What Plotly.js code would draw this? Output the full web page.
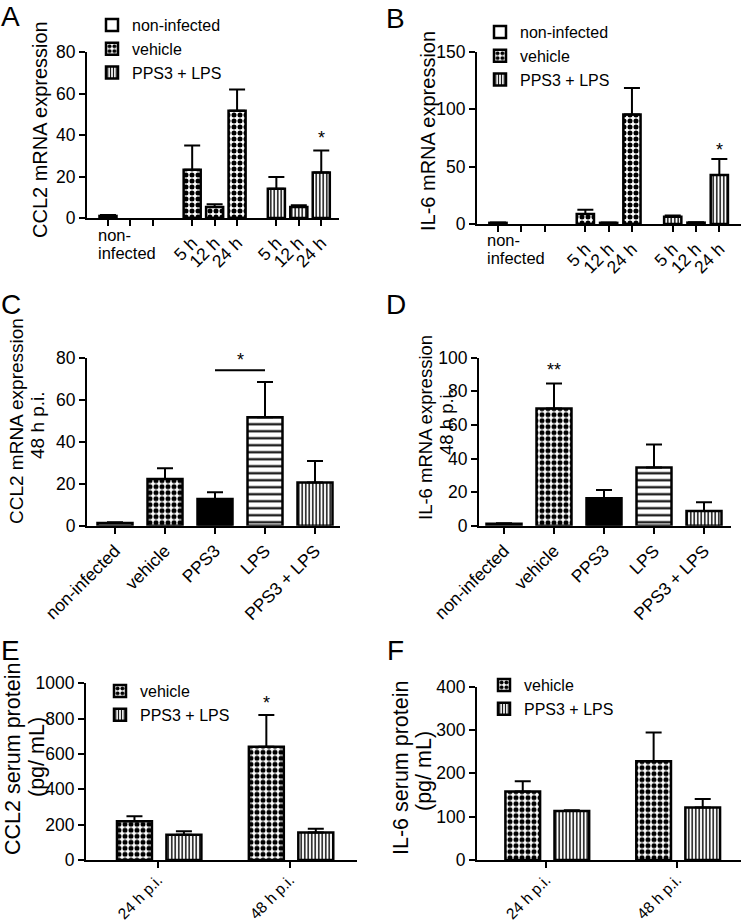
<!DOCTYPE html>
<html><head><meta charset="utf-8">
<script src="https://cdn.plot.ly/plotly-3.0.1.min.js"></script>
<style>html,body{margin:0;padding:0;background:#fff}</style>
</head><body><div id="chart" style="width:742px;height:922px"></div>
<script>
// ---------------- DATA ----------------
const groupNames = ["non-infected", "vehicle", "PPS3 + LPS"];
const timeLabels = ["5 h", "12 h", "24 h"];
const nonInfectedLines = ["non-", "infected"];

const A_nonInfected = [1.0], A_nonInfectedErr = [0.4];
const A_vehicle = [23.2, 5.3, 51.7], A_vehicleErr = [11.7, 1.3, 10.2];
const A_pps3lps = [14.1, 5.3, 21.9], A_pps3lpsErr = [5.7, 0.8, 10.6];

const B_nonInfected = [1.0], B_nonInfectedErr = [0.3];
const B_vehicle = [8.7, 1.0, 95.4], B_vehicleErr = [3.7, 0.3, 23.1];
const B_pps3lps = [6.4, 1.2, 42.8], B_pps3lpsErr = [1.1, 0.3, 13.8];

const treatments = ["non-infected", "vehicle", "PPS3", "LPS", "PPS3 + LPS"];
const C_values = [1.3, 22.2, 12.7, 51.7, 20.6], C_err = [0.3, 5.1, 3.2, 16.7, 10.2];
const D_values = [1.2, 69.8, 16.3, 34.7, 8.7], D_err = [0.3, 14.9, 4.9, 13.7, 5.2];

const timepoints = ["24 h p.i.", "48 h p.i."];
const E_vehicle = [220, 641], E_vehicleErr = [27, 180];
const E_pps3lps = [143, 155], E_pps3lpsErr = [19, 22];
const F_vehicle = [158, 228], F_vehicleErr = [24, 66];
const F_pps3lps = [113, 121], F_pps3lpsErr = [2, 20];

// y-axis titles (one entry per line)
const A_title = ["CCL2 mRNA expression"];
const B_title = ["IL-6 mRNA expression"];
const C_title = ["CCL2 mRNA expression", "48 h p.i."];
const D_title = ["IL-6 mRNA expression", "48 h p.i."];
const E_title = ["CCL2 serum protein", "(pg/ mL)"];
const F_title = ["IL-6 serum protein", "(pg/ mL)"];

// significance marks
const A_sig = {group: 2, time: 2, label: "*", y: 38.5};
const B_sig = {group: 2, time: 2, label: "*", y: 64.5};
const C_sig = {from: "PPS3", to: "LPS", label: "*", y: 74};
const D_sig = {at: "vehicle", label: "**", y: 92.5};
const E_sig = {time: 1, label: "*", y: 890};

// ---------------- STYLE ----------------
const FONT = "Liberation Sans, Arial, Helvetica, sans-serif";
const W = 742, H = 922;
const px = p => p / W;
const py = p => 1 - p / H;
const patt = (shape, size, solidity) => ({shape, size, solidity, fgcolor: "black", bgcolor: "white", fillmode: "replace"});
const styles = {
  "non-infected": {color: "white"},
  "vehicle": {color: "white", pattern: patt(".", 6, 0.55)},
  "PPS3": {color: "black"},
  "LPS": {color: "white", pattern: patt("-", 7, 0.3)},
  "PPS3 + LPS": {color: "white", pattern: patt("|", 3.5, 0.4)}
};
const mk = name => Object.assign({line: {color: "black", width: 2.5}}, styles[name]);
const errUp = arr => ({type: "data", symmetric: false, array: arr, arrayminus: arr.map(() => 0),
  color: "black", thickness: 2, width: 8});

const GROUP_STEP = 3.75;
const pos = (g, i) => g * GROUP_STEP + i;

const traces = [];
function timeCourse(nonInf, nonInfErr, veh, vehErr, pps, ppsErr, xa, ya, legend, barW) {
  traces.push({type: "bar", name: groupNames[0], x: [pos(0, 0)], y: nonInf, width: barW,
    marker: mk("non-infected"), error_y: errUp(nonInfErr), xaxis: xa, yaxis: ya, legend: legend});
  traces.push({type: "bar", name: groupNames[1], x: veh.map((_, i) => pos(1, i)), y: veh, width: barW,
    marker: mk("vehicle"), error_y: errUp(vehErr), xaxis: xa, yaxis: ya, legend: legend});
  traces.push({type: "bar", name: groupNames[2], x: pps.map((_, i) => pos(2, i)), y: pps, width: barW,
    marker: mk("PPS3 + LPS"), error_y: errUp(ppsErr), xaxis: xa, yaxis: ya, legend: legend});
}
timeCourse(A_nonInfected, A_nonInfectedErr, A_vehicle, A_vehicleErr, A_pps3lps, A_pps3lpsErr, "x", "y", "legend", 0.76);
timeCourse(B_nonInfected, B_nonInfectedErr, B_vehicle, B_vehicleErr, B_pps3lps, B_pps3lpsErr, "x2", "y2", "legend2", 0.74);

function treatmentPanel(vals, errs, xa, ya) {
  treatments.forEach((t, i) => {
    traces.push({type: "bar", name: t, x: [t], y: [vals[i]], width: 0.7, showlegend: false,
      marker: mk(t), error_y: errUp([errs[i]]), xaxis: xa, yaxis: ya});
  });
}
treatmentPanel(C_values, C_err, "x3", "y3");
treatmentPanel(D_values, D_err, "x4", "y4");

function serumPanel(veh, vehErr, pps, ppsErr, xa, ya, legend) {
  traces.push({type: "bar", name: "vehicle", x: timepoints, y: veh, width: 0.265, offset: -0.31,
    marker: mk("vehicle"), error_y: errUp(vehErr), xaxis: xa, yaxis: ya, legend: legend});
  traces.push({type: "bar", name: "PPS3 + LPS", x: timepoints, y: pps, width: 0.265, offset: 0.065,
    marker: mk("PPS3 + LPS"), error_y: errUp(ppsErr), xaxis: xa, yaxis: ya, legend: legend});
}
serumPanel(E_vehicle, E_vehicleErr, E_pps3lps, E_pps3lpsErr, "x5", "y5", "legend3");
serumPanel(F_vehicle, F_vehicleErr, F_pps3lps, F_pps3lpsErr, "x6", "y6", "legend4");

// ---------------- AXES ----------------
const axBase = {showline: true, linewidth: 2, linecolor: "black", ticks: "outside", ticklen: 6, tickwidth: 2,
  tickcolor: "black", showgrid: false, zeroline: false, fixedrange: true};
const xA = (dom, rng, extra) => Object.assign({}, axBase, {domain: [px(dom[0]), px(dom[1])], range: rng,
  tickfont: {family: FONT, size: 17.5, color: "black"}}, extra);
const yA = (anchor, dom, rng, dtick) => Object.assign({}, axBase, {anchor, domain: [py(dom[1]), py(dom[0])],
  range: rng, dtick, tickfont: {family: FONT, size: 17.5, color: "black"}});

const tcVals = [0, 1, 2].map(i => pos(0, i)).concat(timeLabels.map((_, i) => pos(1, i)), timeLabels.map((_, i) => pos(2, i)));
const tcText = ["", "", ""].concat(timeLabels, timeLabels);

const legendStyle = {xanchor: "left", yanchor: "top", font: {family: FONT, size: 16, color: "black"},
  bgcolor: "rgba(0,0,0,0)", traceorder: "normal"};
const layout = {
  width: W, height: H, margin: {l: 0, r: 0, t: 0, b: 0}, paper_bgcolor: "white", plot_bgcolor: "rgba(0,0,0,0)",
  barmode: "overlay", font: {family: FONT, color: "black"},
  xaxis: xA([87, 339], [-0.935, 10.29], {anchor: "y", tickmode: "array", tickvals: tcVals, ticktext: tcText, tickangle: -45}),
  yaxis: yA("x", [52, 218], [0, 80], 20),
  xaxis2: xA([477, 741], [-0.9, 10.43], {anchor: "y2", tickmode: "array", tickvals: tcVals, ticktext: tcText, tickangle: -45}),
  yaxis2: yA("x2", [52, 224], [0, 150], 50),
  xaxis3: xA([87, 340], [-0.56, 4.5], {anchor: "y3", type: "category", tickangle: -45}),
  yaxis3: yA("x3", [357.7, 525.7], [0, 80], 20),
  xaxis4: xA([479, 731], [-0.5, 4.54], {anchor: "y4", type: "category", tickangle: -45}),
  yaxis4: yA("x4", [357.7, 525.7], [0, 100], 20),
  xaxis5: xA([86, 357], [-0.545, 1.51], {anchor: "y5", type: "category", tickangle: -45, ticklabelstandoff: -3,
    tickfont: {family: FONT, size: 15.5, color: "black"}}),
  yaxis5: yA("x5", [683.3, 860], [0, 1000], 200),
  xaxis6: xA([477, 741], [-0.527, 1.49], {anchor: "y6", type: "category", tickangle: -45, ticklabelstandoff: -3,
    tickfont: {family: FONT, size: 15.5, color: "black"}}),
  yaxis6: yA("x6", [686.7, 860], [0, 400], 100),
  showlegend: true,
  legend:  Object.assign({x: px(92),  y: py(8)},   legendStyle),
  legend2: Object.assign({x: px(480), y: py(15)},  legendStyle),
  legend3: Object.assign({x: px(100), y: py(674)}, legendStyle),
  legend4: Object.assign({x: px(484), y: py(668)}, legendStyle),
  annotations: [],
  shapes: []
};

const ann = layout.annotations;
const txt = (t, x, y, size, extra) => ann.push(Object.assign({text: t, x: px(x), y: py(y), xref: "paper", yref: "paper",
  showarrow: false, borderpad: 0, font: {family: FONT, size: size, color: "black"}}, extra));
// Panel letters
[["A", 0, 0], ["B", 385, 2], ["C", 0, 288], ["D", 385, 288], ["E", 0, 634], ["F", 386, 634]].forEach(([t, x, y]) =>
  txt(t, x, y, 28, {xanchor: "left", yanchor: "top"}));
// Y titles: [lines, line-center x positions, y centers, font size]
[[A_title, [40], [130], 20], [B_title, [428], [131], 20],
 [C_title, [16, 37], [421, 425], 19], [D_title, [425, 446], [428, 422], 18.5],
 [E_title, [13, 37], [759, 757], 21.5], [F_title, [401, 424], [768, 771], 21.5]
].forEach(([lines, xs, ys, s]) => lines.forEach((t, k) =>
  txt(t, xs[k], ys[k], s, {xanchor: "center", yanchor: "middle", textangle: -90})));
// non-infected group labels (horizontal, left aligned)
[[97, [235, 253]], [486, [240, 258]]].forEach(([x, ys]) =>
  nonInfectedLines.forEach((t, k) => txt(t, x, ys[k], 16.5, {xanchor: "left", yanchor: "middle"})));
// significance
const star = (t, x, y, xr, yr) => ann.push({text: t, x, y, xref: xr, yref: yr, showarrow: false,
  font: {family: FONT, size: 18, color: "black"}});
star(A_sig.label, pos(A_sig.group, A_sig.time), A_sig.y, "x", "y");
star(B_sig.label, pos(B_sig.group, B_sig.time), B_sig.y, "x2", "y2");
const ci = treatments.indexOf(C_sig.from), cj = treatments.indexOf(C_sig.to);
layout.shapes.push({type: "line", xref: "x3", yref: "y3", x0: ci, x1: cj, y0: C_sig.y, y1: C_sig.y,
  line: {color: "black", width: 2}});
star(C_sig.label, (ci + cj) / 2, C_sig.y + 5, "x3", "y3");
star(D_sig.label, treatments.indexOf(D_sig.at), D_sig.y, "x4", "y4");
star(E_sig.label, E_sig.time - 0.31 + 0.1325, E_sig.y, "x5", "y5");

Plotly.newPlot("chart", traces, layout, {staticPlot: true, displayModeBar: false});
</script></body></html>
